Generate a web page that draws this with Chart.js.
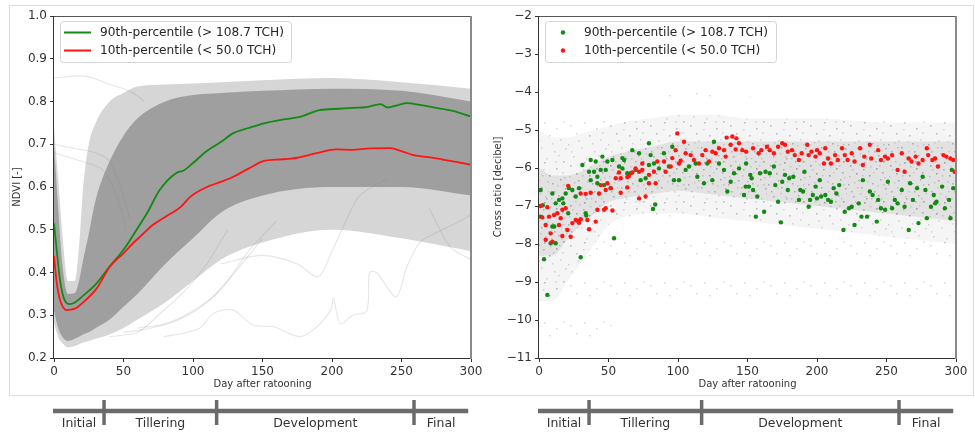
<!DOCTYPE html>
<html>
<head>
<meta charset="utf-8">
<script src="https://cdn.jsdelivr.net/npm/chart.js@4.4.0/dist/chart.umd.min.js"></script>
<style>
body { margin: 0; background: #fff; width: 975px; height: 434px; overflow: hidden; position: relative; }
#frame { position: absolute; left: 9px; top: 5px; width: 963px; height: 389px; border: 1px solid #dcdcdc; }
#ndvi { position: absolute; left: 0; top: 0; }
#cross { position: absolute; left: 487px; top: 0; }
</style>
</head>
<body>
<div id="frame"></div>
<canvas id="ndvi" width="487" height="434"></canvas>
<canvas id="cross" width="488" height="434"></canvas>
<script>
// --- growth phases (days after ratooning) ---
const phaseNames = ['Initial', 'Tillering', 'Development', 'Final'];
const phaseEdges = [0, 36, 117, 259, 298];

// --- NDVI panel: percentile curves ---
const greenDays = [0, 2, 4, 6, 8, 11, 15, 20, 25, 30, 40, 50, 60, 67, 76, 88, 93, 100, 109, 120, 129, 140, 151, 165, 177, 191, 205, 215, 225, 235, 240, 247, 254, 263, 273, 287, 300];
const greenNdvi = [0.515, 0.45, 0.39, 0.352, 0.333, 0.326, 0.330, 0.343, 0.357, 0.372, 0.414, 0.453, 0.503, 0.539, 0.593, 0.633, 0.638, 0.656, 0.682, 0.705, 0.726, 0.738, 0.749, 0.758, 0.764, 0.780, 0.783, 0.785, 0.787, 0.794, 0.786, 0.791, 0.796, 0.792, 0.786, 0.778, 0.765];
const redDays = [0, 2, 4, 6, 9, 12, 16, 22, 31, 40, 50, 57, 64, 71, 80, 91, 98, 110, 120, 129, 140, 151, 160, 172, 189, 203, 215, 225, 242, 250, 258, 273, 285, 300];
const redNdvi = [0.439, 0.375, 0.340, 0.322, 0.312, 0.313, 0.317, 0.333, 0.364, 0.413, 0.445, 0.469, 0.490, 0.511, 0.530, 0.553, 0.577, 0.600, 0.612, 0.624, 0.643, 0.661, 0.664, 0.667, 0.679, 0.688, 0.687, 0.690, 0.691, 0.684, 0.675, 0.668, 0.661, 0.652];

// --- NDVI panel: envelope of all fields (gray cloud) ---
const bandDays = [0, 3, 6, 10, 15, 18, 21, 25, 30, 40, 50, 60, 80, 100, 120, 150, 200, 250, 300];
const outerUpper = [0.74, 0.62, 0.49, 0.38, 0.38, 0.46, 0.60, 0.70, 0.75, 0.80, 0.82, 0.835, 0.84, 0.842, 0.845, 0.85, 0.855, 0.845, 0.83];
const outerLower = [0.28, 0.25, 0.235, 0.225, 0.228, 0.232, 0.236, 0.24, 0.245, 0.255, 0.27, 0.29, 0.33, 0.38, 0.43, 0.47, 0.50, 0.48, 0.45];
const coreUpper = [0.70, 0.55, 0.42, 0.35, 0.352, 0.38, 0.43, 0.49, 0.57, 0.66, 0.72, 0.76, 0.80, 0.815, 0.82, 0.825, 0.83, 0.825, 0.80];
const coreLower = [0.31, 0.27, 0.25, 0.24, 0.245, 0.25, 0.255, 0.26, 0.27, 0.29, 0.32, 0.35, 0.42, 0.48, 0.54, 0.58, 0.60, 0.60, 0.58];
// a few stray fields outside the cloud
const strayLines = [
  [[0, 0.855], [20, 0.86], [28, 0.855], [40, 0.84], [50, 0.83], [57, 0.82], [65, 0.80]],
  [[0, 0.70], [15, 0.69], [30, 0.68], [40, 0.66], [48, 0.60], [55, 0.52]],
  [[0, 0.68], [20, 0.66], [35, 0.64], [45, 0.58], [52, 0.50]],
  [[79, 0.25], [93, 0.258], [105, 0.27], [115, 0.305], [129, 0.312], [143, 0.277], [158, 0.273], [177, 0.25], [189, 0.273], [199, 0.312], [201, 0.34], [206, 0.28], [215, 0.30], [225, 0.31], [227, 0.40], [232, 0.40], [246, 0.343], [254, 0.414], [263, 0.47], [273, 0.49], [292, 0.52], [300, 0.535]],
  [[120, 0.42], [150, 0.44], [175, 0.42], [190, 0.39], [200, 0.45], [210, 0.52], [220, 0.58], [240, 0.62]],
  [[60, 0.27], [80, 0.28], [100, 0.31], [120, 0.36], [140, 0.45], [160, 0.52]],
  [[50, 0.26], [70, 0.27], [90, 0.29], [110, 0.33], [130, 0.40], [150, 0.48]],
  [[40, 0.25], [60, 0.26], [75, 0.30], [95, 0.36], [110, 0.42], [125, 0.50]],
  [[270, 0.55], [285, 0.46], [300, 0.43]]
];

// --- Cross ratio panel: cloud of all fields ---
const cloudDays = [0, 10, 20, 30, 40, 50, 60, 80, 100, 125, 150, 200, 250, 300];
const sparseUpper = [-4.3, -4.35, -4.4, -4.4, -4.35, -4.3, -4.2, -4.1, -4.0, -4.05, -4.1, -4.2, -4.3, -4.3];
const sparseLower = [-10.9, -10.8, -10.7, -10.6, -10.4, -10.2, -10.0, -9.8, -9.7, -9.6, -9.5, -9.4, -9.5, -9.6];
const midUpper = [-5.0, -5.2, -5.2, -5.1, -5.0, -4.9, -4.8, -4.7, -4.6, -4.6, -4.7, -4.7, -4.8, -4.8];
const midLower = [-9.5, -9.5, -9.0, -8.5, -8.0, -7.5, -7.3, -7.2, -7.2, -7.3, -7.4, -7.6, -7.8, -8.0];
const denseUpper = [-6.0, -6.2, -6.2, -6.1, -5.9, -5.7, -5.6, -5.45, -5.3, -5.3, -5.3, -5.3, -5.3, -5.3];
const denseLower = [-8.3, -8.3, -7.9, -7.5, -7.2, -6.9, -6.8, -6.7, -6.6, -6.7, -6.8, -7.0, -7.2, -7.4];

// --- Cross ratio panel: percentile fields [day, dB] ---
const green90Pts = [
  [1.2, -6.58], [9.6, -6.67], [12, -6.93], [14.4, -6.84], [16.8, -6.8], [19.2, -6.67], [21.6, -6.53], [24, -6.58], [26.4, -6.75], [28.8, -6.53],
  [33.6, -7.19], [1.2, -7.28], [2.7, -6.98], [9.6, -7.54], [11, -7.54], [8.4, -7.98], [12, -7.98], [3.6, -8.4], [6, -9.34], [21, -7.19],
  [17.5, -6.93], [30, -8.35], [34, -7.25], [54, -7.85], [31.2, -5.92], [37.2, -5.79], [40.8, -5.83], [45.6, -5.7], [49.2, -5.83], [52.8, -5.79],
  [60, -5.74], [61.2, -5.79], [67.1, -5.53], [72, -5.61], [79.1, -5.35], [80.3, -5.66], [82, -7.08], [83.6, -6.96], [36, -6.1], [39.6, -6.1],
  [42, -6.23], [44.4, -6.05], [48, -6.05], [37.2, -6.32], [42, -6.4], [46.8, -6.45], [51.6, -6.53], [57.6, -5.96], [60, -6.01], [63.5, -6.14],
  [66, -6.14], [69.5, -6.05], [73.1, -6.32], [76.7, -6.27], [79.1, -5.92], [82.7, -5.88], [86.3, -6.01], [89.9, -5.61], [93.5, -5.96], [95.9, -5.44],
  [97.1, -6.32], [100.7, -6.32], [105.5, -6.05], [107.9, -5.96], [112.7, -5.88], [113.9, -6.23], [118.7, -6.4], [121.1, -5.88], [124.7, -6.32], [125.9, -5.31],
  [129.5, -5.88], [133.1, -6.05], [135.5, -6.62], [137.9, -6.36], [140.3, -6.14], [143.9, -6.01], [147.5, -6.71], [148.7, -6.49],
  [149, -5.88], [152, -6.18], [153, -6.27], [151, -6.49], [154, -6.58], [157, -6.75], [156, -7.28], [162, -7.15], [159, -6.14], [163, -6.1],
  [166, -6.14], [169, -5.96], [170, -6.45], [172, -6.89], [174, -7.43], [175, -6.36], [177, -6.18], [179, -6.58], [180, -6.27], [183, -6.23],
  [187, -6.84], [188, -6.58], [190, -6.62], [191, -6.1], [194, -7.02], [195, -6.84], [197, -6.71], [199, -6.49], [200, -6.8], [202, -6.32],
  [203, -6.75], [206, -6.71], [208, -6.84], [210, -6.89], [212, -6.53], [214, -6.67], [216, -6.45], [219, -7.63], [220, -7.15], [223, -7.06],
  [225, -7.02], [227, -7.5], [230, -6.93], [232, -7.28], [233, -6.32], [236, -7.28], [238, -6.62], [240, -6.71], [243, -7.41], [244, -6.84],
  [246, -7.06], [249, -7.1], [251, -6.36], [254, -7.06], [256, -6.84], [258, -6.93], [261, -6.58], [263, -7.02], [266, -7.63], [267, -6.4],
  [269, -6.84], [272, -6.53], [273, -7.45], [276, -6.23], [278, -6.58], [279, -7.32], [282, -7.02], [284, -6.71], [286, -6.89], [290, -6.49],
  [292, -7.06], [295, -6.84], [297, -6.05], [298, -6.53], [296, -7.32], [285, -6.93]
];
const red10Pts = [
  [1.2, -7.0], [6, -7.03], [2.4, -7.3], [7.2, -7.28], [4.8, -7.5], [10.8, -7.24], [13.2, -7.19], [16.8, -7.1], [19.2, -7.06], [15.6, -7.32],
  [14.4, -7.5], [8.4, -7.72], [9.6, -7.94], [4.8, -7.89], [16.8, -7.79], [20.4, -7.63], [22.8, -7.81], [24, -7.45], [27.6, -7.39], [28.8, -7.44],
  [30, -7.35], [26.4, -7.37], [34.8, -7.37], [36, -7.61], [40.8, -7.41], [42, -7.1], [48, -7.06], [46.8, -7.1], [52.8, -7.12], [58.8, -6.65],
  [63.5, -6.51], [72, -6.8], [76.7, -6.75], [30, -6.67], [33.6, -6.68], [37.2, -6.65], [43.2, -6.67], [44.4, -6.45], [49.2, -6.4], [48, -6.58],
  [51.6, -6.53], [55.2, -6.27], [58.8, -6.27], [57.6, -6.12], [63.5, -6.24], [67.1, -6.12], [69.5, -6.01], [72, -6.1], [74.3, -6.05], [79.1, -6.18],
  [82.7, -6.1], [79.1, -6.4], [83.9, -6.4], [85.1, -5.83], [89.9, -5.83], [94.7, -5.96], [95.9, -5.74], [98.3, -5.53], [100.7, -5.88], [104.3, -5.31],
  [105.5, -5.61], [109.1, -5.66], [111.5, -5.79], [115.1, -5.88], [117.5, -5.66], [119.9, -5.53], [124.7, -5.57], [129.5, -5.48], [133.1, -5.53], [134.3, -5.7],
  [137.9, -5.39], [139.1, -5.17], [143.9, -5.35], [146.3, -5.53], [99.5, -5.09], [21, -6.47], [64.7, -6.21], [74.3, -5.88], [91.1, -6.1], [101.9, -5.81],
  [122.3, -5.83], [127.1, -5.61], [141.5, -5.51], [135, -5.2], [142, -5.22],
  [149, -5.57], [154, -5.48], [158, -5.61], [160, -5.53], [164, -5.44], [166, -5.53], [169, -5.61], [172, -5.44], [175, -5.35], [177, -5.39],
  [179, -5.57], [182, -5.53], [184, -5.66], [187, -5.79], [189, -5.61], [193, -5.39], [194, -5.66], [196, -5.57], [199, -5.7], [200, -5.53],
  [202, -5.61], [205, -5.88], [206, -5.48], [208, -5.75], [210, -5.88], [213, -5.66], [215, -5.79], [218, -5.48], [220, -5.66], [222, -5.79],
  [225, -5.61], [227, -5.83], [231, -5.48], [233, -5.92], [234, -5.7], [238, -5.39], [239, -5.75], [244, -5.53], [246, -5.79], [249, -5.7],
  [251, -5.75], [254, -5.66], [258, -6.05], [261, -5.61], [263, -6.1], [266, -5.75], [268, -5.83], [271, -5.7], [273, -5.88], [276, -5.79],
  [279, -5.48], [280, -5.66], [283, -5.79], [285, -5.75], [287, -5.96], [291, -5.66], [293, -5.7], [296, -5.75], [298, -5.79], [299, -6.1]
];

Chart.defaults.font.family = '"DejaVu Sans", sans-serif';
Chart.defaults.color = '#333';

const toXY = (days, vals) => days.map((d, i) => ({ x: d, y: vals[i] }));
const pairs = pts => pts.map(p => ({ x: p[0], y: p[1] }));

// speckle texture for the gray scatter cloud (fixed tile, style only)
const speckSpots = [[3, 5], [17, 2], [29, 8], [36, 1], [9, 13], [22, 15], [33, 19], [1, 24], [14, 27], [27, 31],
  [38, 28], [6, 36], [19, 38], [31, 35], [11, 20], [25, 23], [35, 12], [4, 31], [16, 9], [28, 1],
  [8, 1], [23, 6], [37, 17], [13, 33], [2, 16], [30, 25], [20, 21], [34, 38], [10, 27], [26, 12],
  [39, 33], [15, 15], [5, 9], [21, 31], [32, 5], [18, 36], [7, 22], [24, 38], [36, 24], [12, 4]];
function speckle(count, tint, alpha) {
  const c = document.createElement('canvas');
  c.width = 40; c.height = 40;
  const g = c.getContext('2d');
  g.fillStyle = tint;
  g.fillRect(0, 0, 40, 40);
  g.fillStyle = 'rgba(120,120,120,' + alpha + ')';
  speckSpots.slice(0, count).forEach(p => g.fillRect(p[0], p[1], 1.5, 1.5));
  return g.createPattern(c, 'repeat');
}

// legend drawn inside the plot, upper left
const insideLegend = {
  id: 'insideLegend',
  afterDraw(chart, args, opts) {
    const { ctx, chartArea } = chart;
    const x0 = chartArea.left + 6, y0 = chartArea.top + 5;
    ctx.save();
    ctx.fillStyle = 'rgba(255,255,255,0.85)';
    ctx.strokeStyle = '#d4d4d4';
    ctx.lineWidth = 1;
    ctx.beginPath();
    ctx.roundRect(x0 + 0.5, y0 + 0.5, 231, 41, 3);
    ctx.fill();
    ctx.stroke();
    ctx.font = '12.2px "DejaVu Sans"';
    ctx.textBaseline = 'middle';
    opts.items.forEach((it, i) => {
      const cy = y0 + 11.5 + i * 18;
      if (it.kind === 'line') {
        ctx.strokeStyle = it.color;
        ctx.lineWidth = 2;
        ctx.beginPath();
        ctx.moveTo(x0 + 4, cy);
        ctx.lineTo(x0 + 31, cy);
        ctx.stroke();
      } else {
        ctx.fillStyle = it.color;
        ctx.beginPath();
        ctx.arc(x0 + 18, cy, 2.2, 0, Math.PI * 2);
        ctx.fill();
      }
      ctx.fillStyle = '#262626';
      ctx.fillText(it.label, x0 + opts.textOffset, cy + 0.5);
    });
    ctx.restore();
  }
};

// plot spines
const spines = {
  id: 'spines',
  afterDatasetsDraw(chart) {
    const { ctx, chartArea: a } = chart;
    ctx.save();
    ctx.lineWidth = 1;
    ctx.strokeStyle = '#555';
    ctx.beginPath();
    ctx.moveTo(a.left, a.top + 0.5);
    ctx.lineTo(a.right, a.top + 0.5);
    ctx.stroke();
    ctx.strokeStyle = '#333';
    ctx.beginPath();
    ctx.moveTo(a.left - 0.5, a.top);
    ctx.lineTo(a.left - 0.5, a.bottom + 0.5);
    ctx.lineTo(a.right, a.bottom + 0.5);
    ctx.stroke();
    ctx.strokeStyle = '#8a8a8a';
    ctx.lineWidth = 2;
    ctx.beginPath();
    ctx.moveTo(a.right, a.top);
    ctx.lineTo(a.right, a.bottom + 1);
    ctx.stroke();
    ctx.restore();
  }
};

// growth phase bar under each plot
const phaseBar = {
  id: 'phaseBar',
  afterDraw(chart) {
    const { ctx } = chart;
    const xs = chart.scales.x;
    const px = phaseEdges.map(d => xs.getPixelForValue(d));
    ctx.save();
    ctx.strokeStyle = '#6b6b6b';
    ctx.lineWidth = 4.5;
    ctx.beginPath();
    ctx.moveTo(px[0] - 1, 411);
    ctx.lineTo(px[px.length - 1], 411);
    ctx.stroke();
    ctx.lineWidth = 3.5;
    for (let i = 1; i < px.length - 1; i++) {
      ctx.beginPath();
      ctx.moveTo(px[i], 400);
      ctx.lineTo(px[i], 425);
      ctx.stroke();
    }
    ctx.fillStyle = '#333';
    ctx.font = '12.5px "DejaVu Sans"';
    ctx.textAlign = 'center';
    ctx.textBaseline = 'middle';
    phaseNames.forEach((n, i) => ctx.fillText(n, (px[i] + px[i + 1]) / 2, 424));
    ctx.restore();
  }
};

function axes(yMin, yMax, step, yTitle, fmt, yWidth, titlePad) {
  const tickGrid = { drawOnChartArea: false, drawTicks: true, tickLength: 4, color: '#333' };
  return {
    x: {
      type: 'linear', min: 0, max: 300,
      ticks: { stepSize: 50, font: { size: 12 }, padding: 3, color: '#333' },
      grid: tickGrid, border: { display: false },
      title: { display: true, text: 'Day after ratooning', font: { size: 10 }, padding: { top: 0, bottom: 4 } },
      afterFit: s => { s.height = 36; }
    },
    y: {
      type: 'linear', min: yMin, max: yMax,
      ticks: { stepSize: step, font: { size: 12 }, padding: 3, color: '#333', callback: fmt },
      grid: tickGrid, border: { display: false },
      title: { display: true, text: yTitle, font: { size: 10 }, padding: { top: titlePad, bottom: 0 } },
      afterFit: s => { s.width = yWidth; }
    }
  };
}

const band = (days, vals, color, order, fill) => ({
  data: toXY(days, vals), borderWidth: 0, pointRadius: 0, cubicInterpolationMode: 'monotone',
  backgroundColor: color, fill: fill, order: order
});

// --- left: NDVI ---
const ndviSets = [
  { data: toXY(greenDays, greenNdvi), borderColor: '#138a13', borderWidth: 1.8, pointRadius: 0, cubicInterpolationMode: 'monotone', fill: false, order: 1 },
  { data: toXY(redDays, redNdvi), borderColor: '#ff1414', borderWidth: 1.8, pointRadius: 0, cubicInterpolationMode: 'monotone', fill: false, order: 0 },
  band(bandDays, outerUpper, 'rgba(128,128,128,0.32)', 20, '+1'),
  band(bandDays, outerLower, 'rgba(0,0,0,0)', 21, false),
  band(bandDays, coreUpper, 'rgba(128,128,128,0.64)', 18, '+1'),
  band(bandDays, coreLower, 'rgba(0,0,0,0)', 19, false)
];
strayLines.forEach(l => ndviSets.push({
  data: pairs(l), borderColor: 'rgba(128,128,128,0.2)', borderWidth: 1.1, pointRadius: 0, tension: 0.3, fill: false, order: 10
}));

new Chart(document.getElementById('ndvi'), {
  type: 'line',
  data: { datasets: ndviSets },
  options: {
    responsive: false, animation: false, events: [],
    layout: { padding: { left: 0, right: 16, top: 16, bottom: 40 } },
    scales: axes(0.2, 1.0, 0.1, 'NDVI [-]', v => v.toFixed(1), 54, 11),
    plugins: {
      legend: { display: false }, tooltip: { enabled: false },
      insideLegend: {
        textOffset: 40,
        items: [
          { label: '90th-percentile (> 108.7 TCH)', color: '#138a13', kind: 'line' },
          { label: '10th-percentile (< 50.0 TCH)', color: '#ff1414', kind: 'line' }
        ]
      }
    }
  },
  plugins: [spines, insideLegend, phaseBar]
});

// --- right: cross ratio ---
const crossSets = [
  { data: pairs(green90Pts), showLine: false, pointRadius: 2.2, pointBorderWidth: 0, pointBackgroundColor: '#138a13', order: 1 },
  { data: pairs(red10Pts), showLine: false, pointRadius: 2.2, pointBorderWidth: 0, pointBackgroundColor: '#ff1414', order: 0 },
  band(cloudDays, sparseUpper, speckle(6, 'rgba(0,0,0,0)', 0.28), 24, '+1'),
  band(cloudDays, sparseLower, 'rgba(0,0,0,0)', 25, false),
  band(cloudDays, midUpper, speckle(20, 'rgba(160,160,160,0.1)', 0.28), 22, '+1'),
  band(cloudDays, midLower, 'rgba(0,0,0,0)', 23, false),
  band(cloudDays, denseUpper, speckle(40, 'rgba(150,150,150,0.2)', 0.3), 20, '+1'),
  band(cloudDays, denseLower, 'rgba(0,0,0,0)', 21, false)
];

new Chart(document.getElementById('cross'), {
  type: 'line',
  data: { datasets: crossSets },
  options: {
    responsive: false, animation: false, events: [],
    layout: { padding: { left: 0, right: 19, top: 16, bottom: 40 } },
    scales: axes(-11, -2, 1, 'Cross ratio [decibel]', v => (v < 0 ? '\u2212' : '') + Math.abs(v), 52, 5),
    plugins: {
      legend: { display: false }, tooltip: { enabled: false },
      insideLegend: {
        textOffset: 39,
        items: [
          { label: '90th-percentile (> 108.7 TCH)', color: '#138a13', kind: 'dot' },
          { label: '10th-percentile (< 50.0 TCH)', color: '#ff1414', kind: 'dot' }
        ]
      }
    }
  },
  plugins: [spines, insideLegend, phaseBar]
});
</script>
</body>
</html>
